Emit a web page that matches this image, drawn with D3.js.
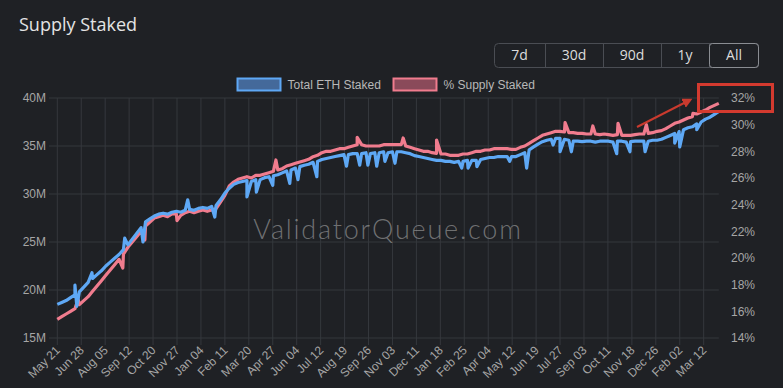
<!DOCTYPE html>
<html>
<head>
<meta charset="utf-8">
<script src="https://cdn.jsdelivr.net/npm/d3@7"></script>
<style>
  html, body { margin: 0; padding: 0; background: #1f2125; }
  svg { display: block; }
</style>
</head>
<body>
<svg id="chart" width="783" height="388"></svg>
<script>
// ---------------- DATA ----------------
const startDate = "2023-05-21";   // first weekly sample
const stepDays = 7;               // weekly samples

// Total ETH Staked (millions), weekly
const totalStaked = [
  18.5,18.7,18.9,19.2,19.5,19.8,20.3,20.8,21.2,21.6,
  22.0,22.5,22.9,23.3,23.7,24.2,24.7,25.3,25.9,26.5,
  27.1,27.4,27.7,27.9,28.0,27.9,28.1,28.2,28.1,28.3,
  28.4,28.3,28.5,28.6,28.5,28.7,28.8,29.4,30.1,30.6,
  31.0,31.2,31.3,31.4,31.3,31.5,31.5,31.7,31.8,31.9,
  32.0,32.2,32.4,32.5,32.7,32.85,33.0,33.1,33.3,33.4,
  33.6,33.7,33.8,33.9,34.0,34.1,34.1,34.2,34.2,34.2,
  34.3,34.2,34.3,34.3,34.4,34.3,34.4,34.4,34.4,34.3,
  34.2,34.0,33.9,33.8,33.7,33.6,33.5,33.5,33.4,33.4,
  33.3,33.4,33.4,33.5,33.5,33.5,33.6,33.7,33.8,33.8,
  33.9,33.9,33.9,33.9,33.9,34.1,34.3,34.6,34.9,35.2,
  35.45,35.6,35.7,35.8,35.8,35.7,35.6,35.5,35.5,35.45,
  35.5,35.5,35.4,35.5,35.5,35.5,35.4,35.5,35.5,35.4,
  35.45,35.5,35.5,35.5,35.5,35.6,35.6,35.7,35.9,36.1,
  36.3,36.5,36.7,36.9,37.0,37.3,37.5,37.8,38.0,38.3,
  38.6
];

// % Supply Staked, weekly
const supplyPct = [
  15.4,15.6,15.8,16.0,16.2,16.5,16.8,17.1,17.5,17.9,
  18.3,18.7,19.1,19.5,19.9,20.3,20.8,21.2,21.6,22.0,
  22.4,22.7,23.0,23.1,23.2,23.1,23.3,23.3,23.2,23.4,
  23.5,23.4,23.5,23.6,23.5,23.6,23.7,24.2,24.7,25.4,
  25.7,25.9,26.0,26.1,26.0,26.2,26.2,26.3,26.4,26.5,
  26.6,26.7,26.9,27.0,27.1,27.2,27.3,27.4,27.6,27.7,
  27.9,28.0,28.0,28.1,28.2,28.2,28.3,28.4,28.5,28.5,
  28.4,28.4,28.4,28.4,28.5,28.5,28.5,28.5,28.5,28.4,
  28.3,28.2,28.1,28.0,28.0,27.9,27.85,27.8,27.8,27.7,
  27.7,27.7,27.8,27.8,27.9,28.0,28.0,28.1,28.1,28.2,
  28.2,28.2,28.2,28.15,28.15,28.3,28.4,28.6,28.8,29.0,
  29.2,29.3,29.4,29.5,29.5,29.45,29.4,29.4,29.35,29.35,
  29.3,29.3,29.3,29.25,29.3,29.25,29.2,29.25,29.2,29.2,
  29.2,29.25,29.3,29.3,29.35,29.4,29.5,29.55,29.7,29.9,
  30.1,30.2,30.35,30.5,30.6,30.8,30.95,31.1,31.3,31.45,
  31.6
];

// Single-day spikes seen in the picture
const stakedSpikes = [
  ["2023-06-18",20.5],["2023-06-21",18.3],["2023-07-15",21.8],["2023-09-05",25.4],
  ["2023-10-04",25.0],["2023-12-14",29.4],["2024-01-26",27.6],["2024-03-17",29.7],
  ["2024-04-01",30.2],["2024-04-27",30.9],["2024-05-24",31.1],["2024-06-06",31.5],
  ["2024-07-06",31.8],["2024-08-22",32.9],["2024-09-12",33.0],["2024-09-25",33.0],
  ["2024-10-09",32.9],["2024-10-22",33.4],["2024-11-07",33.2],["2025-02-21",32.7],
  ["2025-03-03",32.7],["2025-03-17",32.85],["2025-05-08",33.4],["2025-06-04",32.7],
  ["2025-07-16",35.1],["2025-07-27",34.4],["2025-08-14",34.4],["2025-10-25",34.2],
  ["2025-11-15",34.4],["2025-12-09",34.4],["2026-01-25",35.3],["2026-02-02",34.9],
  ["2026-03-01",36.7]
];
const pctSpikes = [
  ["2023-06-23",16.9],["2023-09-02",19.25],["2023-10-07",21.35],["2023-11-27",22.8],
  ["2024-05-02",27.35],["2024-09-08",29.05],["2024-11-20",29.0],["2025-01-12",28.85],
  ["2025-08-04",30.15],["2025-09-17",29.9],["2025-10-27",30.1],["2025-12-11",30.0],
  ["2026-02-23",30.85]
];

const tickDates = [
  "2023-05-21","2023-06-28","2023-08-05","2023-09-12","2023-10-20","2023-11-27",
  "2024-01-04","2024-02-11","2024-03-20","2024-04-27","2024-06-04","2024-07-12",
  "2024-08-19","2024-09-26","2024-11-03","2024-12-11","2025-01-18","2025-02-25",
  "2025-04-04","2025-05-12","2025-06-19","2025-07-27","2025-09-03","2025-10-11",
  "2025-11-18","2025-12-26","2026-02-02","2026-03-12"
];
const leftTicks = [15, 20, 25, 30, 35, 40];
const rightTicks = [14, 16, 18, 20, 22, 24, 26, 28, 30, 32];
const seriesNames = ["Total ETH Staked", "% Supply Staked"];
const rangeButtons = ["7d", "30d", "90d", "1y", "All"];

// ---------------- CHART ----------------
const parse = d3.utcParse("%Y-%m-%d");
const t0 = parse(startDate);
const dates = totalStaked.map((_, i) => d3.utcDay.offset(t0, i * stepDays));

function buildSeries(values, spikes) {
  const pts = values.map((v, i) => ({ date: dates[i], v }));
  spikes.forEach(([d, v]) => pts.push({ date: parse(d), v }));
  pts.sort((a, b) => a.date - b.date);
  return pts;
}
const stakedData = buildSeries(totalStaked, stakedSpikes);
const pctData = buildSeries(supplyPct, pctSpikes);

const L = 57.3, R = 718.8, T = 98, B = 338;
const svg = d3.select("#chart");
const bg = "#1f2125";
svg.append("rect").attr("width", 783).attr("height", 388).attr("fill", bg);

const x = d3.scaleUtc().domain([t0, dates[dates.length - 1]]).range([L, R]);
const yL = d3.scaleLinear().domain([15, 40]).range([B, T]);
const yR = d3.scaleLinear().domain([14, 32]).range([B, T]);

const gridColor = "#35383d";
const tickColor = "#a6a6a6";
const font = "'Liberation Sans', Arial, Helvetica, sans-serif";

// title
svg.append("text").attr("x", 19).attr("y", 31)
  .attr("font-family", "'Open Sans', 'Noto Sans', sans-serif")
  .attr("font-size", 18).attr("fill", "#e4e4e4").text("Supply Staked");

// buttons
const bx0 = 494, by0 = 43, bh = 24;
const bWidths = [51, 58, 58, 48, 50];
let bx = bx0;
const gB = svg.append("g");
gB.append("rect").attr("x", bx0 + 0.5).attr("y", by0 + 0.5)
  .attr("width", d3.sum(bWidths) - 1).attr("height", bh).attr("rx", 4)
  .attr("fill", "none").attr("stroke", "#4a4d53");
rangeButtons.forEach((lab, i) => {
  const w = bWidths[i];
  if (i > 0) gB.append("line").attr("x1", bx + 0.5).attr("x2", bx + 0.5)
    .attr("y1", by0 + 0.5).attr("y2", by0 + bh + 0.5).attr("stroke", "#4a4d53");
  if (lab === "All") gB.append("rect").attr("x", bx + 0.5).attr("y", by0 + 0.5)
    .attr("width", w - 1).attr("height", bh).attr("rx", 3)
    .attr("fill", "none").attr("stroke", "#8a8d92");
  gB.append("text").attr("x", bx + w / 2).attr("y", by0 + bh / 2 + 5)
    .attr("text-anchor", "middle").attr("font-family", "'Open Sans', sans-serif")
    .attr("font-size", 14).attr("fill", "#dcdcdc").text(lab);
  bx += w;
});

// legend
const legendItems = [
  { name: seriesNames[0], x: 237.5, fill: "#44699a", stroke: "#5ea8f5" },
  { name: seriesNames[1], x: 393.5, fill: "#8a4a5a", stroke: "#f07c8e" }
];
legendItems.forEach(it => {
  svg.append("rect").attr("x", it.x).attr("y", 78.5).attr("width", 43).attr("height", 12)
    .attr("fill", it.fill).attr("stroke", it.stroke).attr("stroke-width", 2);
  svg.append("text").attr("x", it.x + 50).attr("y", 88.5)
    .attr("font-family", font).attr("font-size", 12).attr("fill", "#b8b8b8").text(it.name);
});

// grid
const gGrid = svg.append("g");
leftTicks.forEach(v => {
  gGrid.append("line").attr("x1", 49).attr("x2", R).attr("y1", yL(v)).attr("y2", yL(v))
    .attr("stroke", gridColor).attr("stroke-width", 1);
});
tickDates.forEach(d => {
  const xx = x(parse(d));
  gGrid.append("line").attr("x1", xx).attr("x2", xx).attr("y1", T).attr("y2", B + 7)
    .attr("stroke", gridColor).attr("stroke-width", 1);
});

// axes labels
const yAxisL = d3.axisLeft(yL).tickValues(leftTicks).tickFormat(d => d + "M").tickSize(0).tickPadding(0);
const gL = svg.append("g").attr("transform", "translate(46,0)").call(yAxisL);
const yAxisR = d3.axisRight(yR).tickValues(rightTicks).tickFormat(d => d + "%").tickSize(0).tickPadding(0);
const gR = svg.append("g").attr("transform", "translate(731,0)").call(yAxisR);
const xAxis = d3.axisBottom(x).tickValues(tickDates.map(parse)).tickFormat(d3.utcFormat("%b %d")).tickSize(0);
const gX = svg.append("g").attr("transform", `translate(0,${B})`).call(xAxis);
[gL, gR, gX].forEach(g => {
  g.select(".domain").remove();
  g.selectAll("text").attr("font-family", font).attr("font-size", 12).attr("fill", tickColor);
});
gX.selectAll(".tick text")
  .attr("text-anchor", "end").attr("dy", null).attr("y", 0)
  .attr("transform", "translate(3,13) rotate(-45)");

// watermark
svg.append("text").attr("x", 388).attr("y", 239).attr("text-anchor", "middle")
  .attr("font-family", "Lato, 'Open Sans', sans-serif").attr("font-weight", 300)
  .attr("font-size", 27).attr("letter-spacing", 1.8)
  .attr("fill", "#b4b4b4").attr("fill-opacity", 0.55).text("ValidatorQueue.com");

// lines
const lineL = d3.line().x(d => x(d.date)).y(d => yL(d.v));
const lineR = d3.line().x(d => x(d.date)).y(d => yR(d.v));
svg.append("path").datum(pctData).attr("d", lineR).attr("fill", "none")
  .attr("stroke", "#f07c8e").attr("stroke-width", 3.2).attr("stroke-linejoin", "round");
svg.append("path").datum(stakedData).attr("d", lineL).attr("fill", "none")
  .attr("stroke", "#5ea8f5").attr("stroke-width", 3.2).attr("stroke-linejoin", "round");

// annotation: red box + arrow
const red = "#d33a2f";
svg.append("rect").attr("x", 698.5).attr("y", 84.5).attr("width", 74).attr("height", 27)
  .attr("fill", "none").attr("stroke", red).attr("stroke-width", 3);
svg.append("defs").append("marker").attr("id", "ah").attr("viewBox", "0 0 10 10")
  .attr("refX", 5).attr("refY", 5).attr("markerWidth", 5).attr("markerHeight", 5)
  .attr("orient", "auto").append("path").attr("d", "M0,0 L10,5 L0,10 Z").attr("fill", "#c93a2e");
svg.append("line").attr("x1", 637).attr("y1", 127).attr("x2", 688).attr("y2", 101)
  .attr("stroke", "#c93a2e").attr("stroke-width", 2).attr("marker-end", "url(#ah)");
</script>
</body>
</html>
